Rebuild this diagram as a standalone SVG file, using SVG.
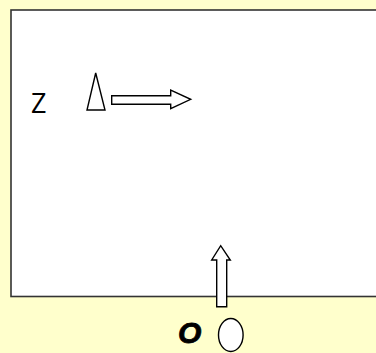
<svg xmlns="http://www.w3.org/2000/svg" width="376" height="353" viewBox="0 0 376 353">
<style>
.s{fill:#fff;stroke:#000;stroke-width:1.4;stroke-linejoin:miter}
</style>
<rect x="0" y="0" width="376" height="353" fill="#FFFFCC"/>
<g id="box"><rect x="11" y="10" width="370" height="286.5" fill="#fff" stroke="#333" stroke-width="1.6"/></g>
<g id="z-label"><text x="31" y="113" font-family="Open Sans, sans-serif" font-size="27" fill="#000">Z</text></g>
<g id="cone"><polygon class="s" points="95.7,73 87,110 105,110"/></g>
<g id="arrow-right"><polygon class="s" points="111.7,95.7 170.7,95.7 170.7,90 190.7,99.3 170.7,108.7 170.7,104.3 111.7,104.3"/></g>
<g id="arrow-up"><polygon class="s" points="216.7,306.7 216.7,260 211.7,260 220.7,245.7 230.3,260 226.7,260 226.7,306.7"/></g>
<g id="o-label"><text x="178" y="343" font-family="Liberation Sans, sans-serif" font-size="30" font-weight="bold" font-style="italic" fill="#000" stroke="#000" stroke-width="0.8">O</text></g>
<g id="ellipse"><ellipse class="s" cx="230.8" cy="335" rx="12.3" ry="16.5"/></g>
</svg>
